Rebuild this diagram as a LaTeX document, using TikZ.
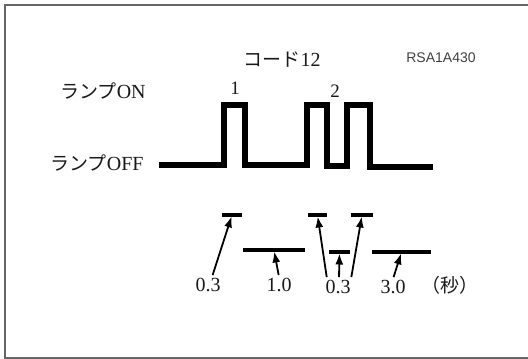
\documentclass[tikz,border=0pt]{standalone}
\usepackage{fontspec}
\setmainfont{Liberation Serif}
\newfontfamily\jpfont{Noto Sans CJK JP}
\newfontfamily\codefont{Liberation Sans}
\usetikzlibrary{arrows.meta,calc}

\tikzset{
  wave/.style={line width=5.5pt, black},
  bar/.style={line width=4pt, black},
  pointer/.style={-{Latex[length=11pt,width=8pt]}, line width=1.8pt, black, shorten <=2pt, shorten >=1.5pt},
  lbl/.style={font=\fontsize{20}{22}\selectfont, text=black!90, inner sep=1pt},
}

\begin{document}
\begin{tikzpicture}[x=1pt, y=-1pt]
\useasboundingbox (0,0) rectangle (528,359);

% Frame
\draw[line width=1.5pt, black!60] (530,5) -- (5,5) -- (5,358) -- (530,358);

% ================= TOP: TITLES =================
\node[lbl] (code) at (282,60) {{\jpfont\fontsize{19}{21}\selectfont コード}12};
\node[lbl, font=\codefont\fontsize{14}{16}\selectfont, text=black!75] (ref) at (441,58) {RSA1A430};
\node[lbl] (lampon) at (103,91) {{\jpfont\fontsize{19}{21}\selectfont ランプ}ON};
\node[lbl] (lampoff) at (97,163) {{\jpfont\fontsize{19}{21}\selectfont ランプ}OFF};

% ================= WAVEFORM =================
\draw[wave] (159,165) -- (224,165) -- (224,105) -- (245,105) -- (245,165)
  -- (307,165) -- (307,105) -- (327,105) -- (327,166) -- (347,166)
  -- (347,105) -- (370,105) -- (370,167) -- (433,167);
\node[lbl, font=\fontsize{19}{21}\selectfont] (count1) at (235,88) {1};
\node[lbl, font=\fontsize{19}{21}\selectfont] (count2) at (335,91) {2};

% ================= DURATIONS =================
% Bars
\draw[bar] (222,215) -- coordinate (barA) (242,215);
\draw[bar] (243,250) -- coordinate (barB) (305,250);
\draw[bar] (308,215) -- coordinate (barC) (327,215);
\draw[bar] (329,252) -- coordinate (barD) (350,252);
\draw[bar] (351,215) -- coordinate (barE) (373,215);
\draw[bar] (372,252) -- coordinate (barF) (431,252);

% Values
\node[lbl] (tA) at (208,285) {0.3};
\node[lbl] (tB) at (279,285) {1.0};
\node[lbl] (tC) at (338,287) {0.3};
\node[lbl] (tF) at (393,287) {3.0};
\node[lbl] (unit) at (450,285) {\jpfont\fontsize{19}{21}\selectfont （秒）};

% Arrows
\draw[pointer] ([xshift=4pt]tA.north) -- (barA);
\draw[pointer] (tB.north) -- (barB);
\draw[pointer] ([xshift=-11pt]tC.north) -- (barC);
\draw[pointer] ([xshift=1pt]tC.north) -- (barD);
\draw[pointer] ([xshift=13pt]tC.north) -- (barE);
\draw[pointer] (tF.north) -- (barF);

\end{tikzpicture}
\end{document}
